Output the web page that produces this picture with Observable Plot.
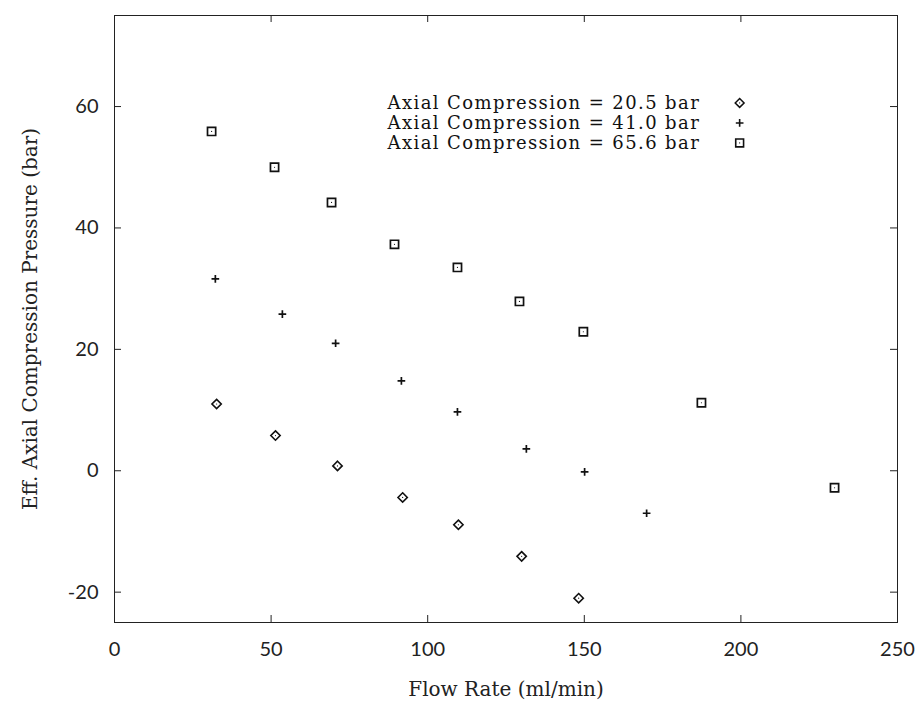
<!DOCTYPE html>
<html>
<head>
<meta charset="utf-8">
<script src="https://cdn.jsdelivr.net/npm/d3@7"></script>
<script src="https://cdn.jsdelivr.net/npm/@observablehq/plot@0.6"></script>
<style>
  html, body { margin: 0; padding: 0; background: #fff; }
  #chart svg { display: block; }
</style>
</head>
<body>
<div id="chart"></div>
<script>
// Series: axial compression levels
const seriesLabels = ["Axial Compression = 20.5 bar", "Axial Compression = 41.0 bar", "Axial Compression = 65.6 bar"];

// 20.5 bar (diamonds)
const flow205 = [32.6, 51.4, 71.2, 92.0, 109.8, 130.0, 148.2];
const press205 = [11.0, 5.8, 0.8, -4.4, -8.9, -14.1, -21.0];

// 41.0 bar (plus)
const flow410 = [32.2, 53.6, 70.6, 91.6, 109.5, 131.5, 150.1, 169.9];
const press410 = [31.6, 25.8, 21.0, 14.8, 9.7, 3.6, -0.2, -7.0];

// 65.6 bar (squares)
const flow656 = [31.0, 51.1, 69.3, 89.4, 109.5, 129.3, 149.7, 187.4, 229.9];
const press656 = [55.9, 50.0, 44.2, 37.3, 33.5, 27.9, 22.9, 11.2, -2.8];

const xTicks = [0, 50, 100, 150, 200, 250];
const yTicks = [-20, 0, 20, 40, 60];

const toRows = (xs, ys) => xs.map((x, i) => ({x, y: ys[i]}));
const d205 = toRows(flow205, press205);
const d410 = toRows(flow410, press410);
const d656 = toRows(flow656, press656);

// legend rows placed in data space (top-right region)
const legendRows = seriesLabels.map((label, i) => ({label, i, ty: 60.6 - i * 3.3}));

const W = 918, H = 704;
const mL = 114, mR = 21, mT = 15, mB = 82;
const plotH = H - mT - mB;
const plotW = W - mL - mR;
const serif = "'DejaVu Serif', 'Liberation Serif', serif";
const sans = "Lato, 'DejaVu Sans', sans-serif";

const chart = Plot.plot({
  width: W,
  height: H,
  marginLeft: mL,
  marginRight: mR,
  marginTop: mT,
  marginBottom: mB,
  style: {background: "#fff", color: "#111"},
  x: {domain: [0, 250], ticks: xTicks},
  y: {domain: [-25, 75], ticks: yTicks},
  marks: [
    Plot.frame({stroke: "#222", strokeWidth: 1}),
    // inward ticks bottom / top
    Plot.tickX(xTicks.slice(1, -1), {x: d => d, insetTop: plotH - 7, stroke: "#222"}),
    Plot.tickX(xTicks.slice(1, -1), {x: d => d, insetBottom: plotH - 7, stroke: "#222"}),
    // inward ticks left / right
    Plot.tickY(yTicks, {y: d => d, insetRight: plotW - 7, stroke: "#222"}),
    Plot.tickY(yTicks, {y: d => d, insetLeft: plotW - 7, stroke: "#222"}),
    Plot.axisX({ticks: xTicks, tickSize: 0, tickPadding: 19, fontSize: 20, fontFamily: sans, fill: "#222",
      tickFormat: d => String(d),
      label: "Flow Rate (ml/min)", labelAnchor: "center", labelArrow: "none", labelOffset: 73}),
    Plot.axisY({ticks: yTicks, tickSize: 0, tickPadding: 16, fontSize: 20, fontFamily: sans, fill: "#222",
      tickFormat: d => String(d),
      label: "Eff. Axial Compression Pressure (bar)", labelAnchor: "center", labelArrow: "none", labelOffset: 92}),
    // data
    Plot.dot(d205, {x: "x", y: "y", symbol: "diamond2", r: 4.2, stroke: "#111", strokeWidth: 1.6}),
    Plot.dot(d205, {x: "x", y: "y", r: 0.6, fill: "#111"}),
    Plot.dot(d410, {x: "x", y: "y", symbol: "plus", r: 2.6, stroke: "#111", strokeWidth: 1.7}),
    Plot.dot(d656, {x: "x", y: "y", symbol: "square2", r: 5.2, stroke: "#111", strokeWidth: 1.7}),
    Plot.dot(d656, {x: "x", y: "y", r: 0.6, fill: "#111"}),
    // legend
    Plot.text(legendRows, {x: 187, y: "ty", text: "label", textAnchor: "end", fontSize: 18, fontFamily: serif, fill: "#111"}),
    Plot.dot(legendRows.filter(d => d.i === 0), {x: 199.6, y: "ty", symbol: "diamond2", r: 4.0, stroke: "#111", strokeWidth: 1.5}),
    Plot.dot(legendRows.filter(d => d.i === 1), {x: 199.6, y: "ty", symbol: "plus", r: 2.6, stroke: "#111", strokeWidth: 1.6}),
    Plot.dot(legendRows.filter(d => d.i === 2), {x: 199.6, y: "ty", symbol: "square2", r: 5.0, stroke: "#111", strokeWidth: 1.6}),
    Plot.dot(legendRows.filter(d => d.i !== 1), {x: 199.6, y: "ty", r: 0.6, fill: "#111"})
  ]
});

// axis label fonts: serif
chart.querySelectorAll("g[aria-label='x-axis label'] text, g[aria-label='y-axis label'] text").forEach(t => {
  t.setAttribute("font-family", serif);
  t.setAttribute("font-size", "20");
});
// legend text: slightly spaced like the original's wide serif
chart.querySelectorAll("g[aria-label='text'] text").forEach(t => {
  t.setAttribute("letter-spacing", "1.4");
});
document.getElementById("chart").appendChild(chart);
</script>
</body>
</html>
